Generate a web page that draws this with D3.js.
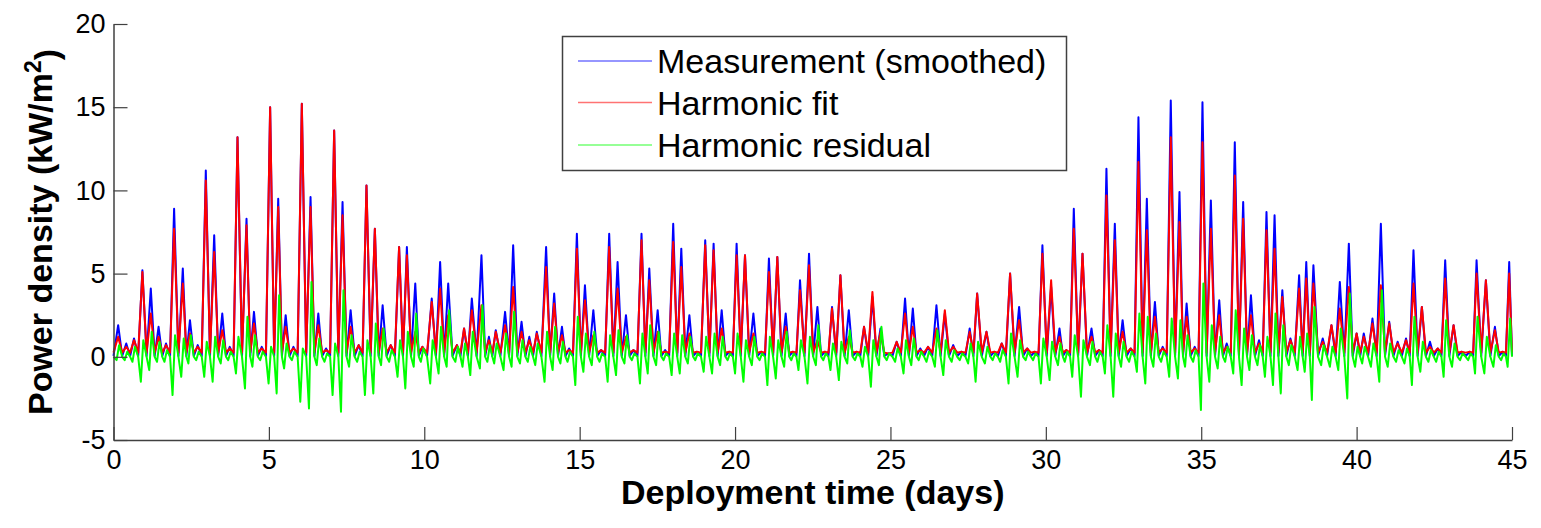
<!DOCTYPE html>
<html>
<head>
<meta charset="utf-8">
<script src="https://cdn.jsdelivr.net/npm/d3@7"></script>
<style>
  body { margin: 0; background: #fff; }
  text { font-family: "Liberation Sans", Arial, sans-serif; }
</style>
</head>
<body>
<svg id="chart" width="1541" height="528"></svg>
<script>
///////////////////// DATA /////////////////////
// time of each current peak (days), ~4 per day
const peakDay = [
  0.15, 0.41, 0.66, 0.93, 1.20, 1.45, 1.69, 1.95, 2.23, 2.46, 2.71, 2.97,
  3.24, 3.50, 3.74, 3.99, 4.28, 4.52, 4.77, 5.04, 5.30, 5.54, 5.79, 6.06,
  6.34, 6.59, 6.84, 7.10, 7.37, 7.63, 7.89, 8.14, 8.41, 8.66, 8.92, 9.19,
  9.44, 9.71, 9.94, 10.24, 10.51, 10.77, 11.05, 11.28, 11.53, 11.84, 12.08, 12.30,
  12.60, 12.86, 13.13, 13.38, 13.62, 13.92, 14.18, 14.43, 14.66, 14.91, 15.17, 15.44,
  15.69, 15.95, 16.22, 16.49, 16.73, 16.99, 17.24, 17.51, 17.75, 18.01, 18.27, 18.53,
  18.77, 19.04, 19.31, 19.57, 19.81, 20.05, 20.32, 20.59, 20.84, 21.09, 21.36, 21.63,
  21.86, 22.09, 22.38, 22.65, 22.89, 23.12, 23.39, 23.66, 23.91, 24.15, 24.42, 24.68,
  24.93, 25.20, 25.47, 25.72, 25.96, 26.21, 26.48, 26.75, 27.02, 27.28, 27.55, 27.79,
  28.09, 28.34, 28.58, 28.85, 29.14, 29.40, 29.64, 29.89, 30.17, 30.44, 30.66, 30.90,
  31.18, 31.47, 31.71, 31.95, 32.22, 32.47, 32.73, 32.98, 33.25, 33.51, 33.76, 34.02,
  34.30, 34.53, 34.79, 35.04, 35.31, 35.58, 35.82, 36.08, 36.35, 36.60, 36.86, 37.10,
  37.36, 37.61, 37.87, 38.15, 38.38, 38.61, 38.91, 39.19, 39.46, 39.75, 40.00, 40.23,
  40.51, 40.78, 41.05, 41.32, 41.59, 41.83, 42.10, 42.36, 42.61, 42.85, 43.12, 43.38,
  43.64, 43.86, 44.16, 44.45, 44.70, 44.91
];
// measured (smoothed) power density at each peak, kW/m2
const measPeak = [
  1.9, 0.8, 1.1, 5.2, 4.1, 1.8, 0.8, 8.9, 5.3, 2.2, 0.7, 11.2,
  7.3, 2.6, 0.6, 13.2, 8.3, 2.7, 0.6, 15.0, 9.5, 2.5, 0.6, 15.2,
  9.6, 2.6, 0.5, 13.6, 9.3, 2.8, 0.7, 10.3, 7.7, 3.1, 0.7, 6.6,
  6.6, 4.4, 0.6, 3.5, 5.7, 4.4, 0.7, 1.7, 3.5, 6.1, 1.2, 1.6,
  2.7, 6.7, 2.1, 1.2, 1.5, 6.6, 3.8, 1.8, 0.5, 7.4, 4.3, 2.8,
  0.4, 7.4, 5.7, 2.5, 0.4, 7.4, 5.3, 2.8, 0.4, 8.0, 6.5, 2.5,
  0.3, 7.0, 6.8, 2.8, 0.3, 6.8, 6.1, 2.6, 0.3, 5.9, 6.0, 2.6,
  0.3, 4.6, 6.2, 3.0, 0.3, 3.0, 4.9, 2.8, 0.3, 1.8, 3.6, 1.7,
  0.2, 0.9, 3.5, 2.9, 0.5, 0.6, 3.1, 2.6, 0.7, 0.3, 1.7, 3.8,
  1.5, 0.3, 0.8, 5.0, 3.0, 0.5, 0.3, 6.7, 4.2, 1.7, 0.4, 8.9,
  6.2, 1.7, 0.4, 11.3, 8.0, 2.2, 0.5, 14.4, 9.5, 3.3, 0.6, 15.4,
  9.9, 3.2, 0.6, 15.3, 9.4, 3.4, 0.8, 12.9, 9.3, 3.7, 1.0, 8.7,
  8.5, 4.0, 1.1, 4.9, 5.7, 5.5, 1.1, 1.9, 4.5, 6.8, 1.4, 1.4,
  2.3, 8.0, 2.1, 0.9, 1.1, 6.4, 3.0, 0.9, 0.5, 5.8, 1.9, 0.3,
  0.3, 5.8, 4.6, 1.8, 0.3, 5.7
];
// harmonic fit at each peak, kW/m2
const fitPeak = [
  1.2, 0.6, 1.0, 5.1, 2.6, 1.2, 0.7, 7.7, 4.4, 1.4, 0.6, 10.6,
  6.3, 1.6, 0.5, 13.2, 7.9, 2.0, 0.5, 15.0, 9.0, 1.8, 0.5, 15.2,
  9.0, 1.9, 0.4, 13.6, 8.5, 1.8, 0.7, 10.3, 7.7, 1.7, 0.7, 6.6,
  6.1, 1.5, 0.6, 3.3, 4.1, 2.5, 0.7, 1.7, 2.8, 3.1, 1.0, 1.5,
  1.9, 4.2, 1.5, 1.0, 1.4, 5.4, 3.2, 1.3, 0.4, 6.5, 3.4, 1.3,
  0.4, 6.6, 4.1, 1.2, 0.4, 7.0, 4.6, 1.5, 0.3, 6.9, 5.4, 1.4,
  0.3, 6.7, 6.4, 1.7, 0.3, 6.1, 6.1, 1.4, 0.3, 5.1, 6.0, 1.8,
  0.3, 4.0, 5.5, 1.0, 0.3, 2.9, 4.9, 1.2, 0.3, 1.8, 3.9, 1.5,
  0.2, 0.9, 2.6, 1.8, 0.4, 0.6, 1.7, 2.8, 0.6, 0.3, 1.5, 3.8,
  1.5, 0.3, 0.8, 5.0, 2.2, 0.5, 0.3, 6.2, 4.6, 1.2, 0.4, 7.7,
  6.2, 1.2, 0.4, 9.7, 7.0, 1.5, 0.5, 11.7, 7.6, 2.4, 0.5, 13.2,
  8.1, 2.4, 0.5, 12.9, 7.7, 2.5, 0.6, 10.9, 8.3, 2.5, 0.8, 7.6,
  6.5, 3.6, 1.0, 4.1, 4.7, 4.4, 0.9, 1.9, 2.9, 4.2, 1.4, 1.2,
  2.0, 4.3, 2.0, 0.8, 1.0, 4.4, 3.0, 0.6, 0.5, 4.7, 1.9, 0.3,
  0.3, 5.0, 4.6, 1.6, 0.3, 5.0
];
// residual excursions around each peak (high / low), kW/m2
const residHigh = [
  0.7, 0.3, 0.6, 1.0, 1.5, 0.9, 0.4, 1.3, 1.1, 1.3, 0.3, 0.9,
  1.2, 1.0, 0.3, 1.2, 2.4, 1.3, 0.3, 0.6, 3.7, 0.8, 0.3, 0.5,
  4.5, 1.1, 0.2, 0.8, 4.0, 1.3, 0.3, 1.0, 2.0, 1.7, 0.4, 1.0,
  1.5, 2.6, 0.5, 1.0, 1.8, 2.8, 0.6, 0.8, 1.5, 3.1, 0.7, 0.8,
  1.4, 2.7, 1.0, 0.6, 0.8, 1.5, 1.8, 0.9, 0.3, 2.4, 1.4, 1.5,
  0.2, 1.3, 1.6, 1.3, 0.2, 1.4, 1.9, 1.5, 0.2, 1.4, 1.3, 1.2,
  0.2, 1.2, 1.4, 1.2, 0.2, 1.4, 1.0, 1.2, 0.2, 1.2, 1.0, 1.5,
  0.2, 1.0, 1.2, 1.9, 0.2, 0.8, 0.9, 1.6, 0.2, 0.6, 1.0, 1.8,
  0.2, 0.5, 1.0, 1.1, 0.3, 0.3, 1.6, 1.0, 0.4, 0.2, 0.8, 0.9,
  0.6, 0.2, 0.4, 1.4, 1.0, 0.3, 0.2, 1.1, 0.9, 0.8, 0.3, 1.3,
  1.0, 0.9, 0.3, 1.9, 1.4, 0.9, 0.3, 2.6, 2.4, 1.4, 0.3, 2.3,
  2.2, 1.3, 0.4, 4.4, 1.9, 1.2, 0.6, 2.8, 1.7, 1.3, 0.7, 1.2,
  2.6, 1.9, 0.7, 1.2, 1.4, 3.0, 0.7, 0.6, 1.7, 3.8, 0.6, 0.6,
  0.8, 4.0, 0.8, 0.4, 0.5, 2.4, 0.9, 0.4, 0.3, 2.2, 0.8, 0.2,
  0.2, 2.4, 1.2, 0.7, 0.2, 2.3
];
const residLow = [
  -0.2, -0.2, -0.3, -1.5, -0.8, -0.3, -0.3, -2.3, -1.2, -0.4, -0.2, -1.2,
  -1.5, -0.4, -0.2, -1.0, -1.9, -0.6, -0.2, -1.6, -2.2, -0.7, -0.2, -2.7,
  -3.1, -0.5, -0.3, -2.3, -3.3, -0.6, -0.3, -2.3, -2.2, -0.5, -0.3, -1.2,
  -1.9, -0.6, -0.3, -1.6, -1.0, -0.6, -0.3, -0.6, -1.1, -0.7, -0.3, -0.4,
  -0.8, -0.6, -0.4, -0.3, -0.5, -1.5, -0.8, -0.4, -0.3, -1.7, -0.9, -0.5,
  -0.3, -1.5, -1.1, -0.4, -0.2, -1.6, -1.0, -0.5, -0.2, -1.1, -1.0, -0.4,
  -0.2, -0.9, -1.0, -0.5, -0.2, -1.0, -1.5, -0.5, -0.2, -1.7, -1.3, -0.6,
  -0.2, -0.8, -1.6, -0.5, -0.2, -0.8, -1.4, -0.4, -0.2, -0.6, -1.8, -0.5,
  -0.2, -0.3, -1.0, -0.5, -0.2, -0.3, -0.6, -1.1, -0.3, -0.2, -0.4, -1.5,
  -0.4, -0.2, -0.3, -1.6, -1.2, -0.2, -0.2, -1.6, -1.4, -0.5, -0.3, -1.2,
  -2.4, -0.5, -0.3, -1.0, -2.4, -0.6, -0.3, -0.9, -1.6, -0.6, -0.3, -1.2,
  -1.3, -0.6, -0.3, -3.2, -1.5, -0.7, -0.3, -1.0, -1.7, -0.8, -0.5, -1.2,
  -1.7, -2.2, -0.5, -0.8, -0.9, -2.6, -0.5, -0.6, -0.8, -2.5, -0.6, -0.4,
  -0.6, -1.5, -0.6, -0.3, -0.4, -1.7, -0.9, -0.3, -0.3, -1.2, -0.6, -0.2,
  -0.2, -1.0, -1.0, -0.6, -0.2, -0.6
];
const measSlack = 0.05;   // level at slack water between peaks
const fitSlack = 0.25;

const xTicks = [0, 5, 10, 15, 20, 25, 30, 35, 40, 45];
const yTicks = [-5, 0, 5, 10, 15, 20];
const seriesNames = ["Measurement (smoothed)", "Harmonic fit", "Harmonic residual"];
const seriesColors = ["#0000ff", "#ff0000", "#00ff00"];

///////////////////// LAYOUT /////////////////////
let margin = {top: 24, left: 113.5},
    width = 1512 - 113.5,
    height = 416;

const svg = d3.select("#chart");
svg.append("rect").attr("width", 1541).attr("height", 528).attr("fill", "#fff");

const g = svg.append("g")
    .attr("transform", "translate(" + margin.left + "," + margin.top + ")");

let x = d3.scaleLinear().domain([0, 45]).range([0, width]);
let y = d3.scaleLinear().domain([-5, 20]).range([height, 0]);

// slack times sit half way between successive peaks
const troughDay = [0].concat(peakDay.slice(1).map((d, i) => (d + peakDay[i]) / 2));

let build = (peaks, slack) => {
    let pts = [];
    peakDay.forEach((d, i) => {
        pts.push([troughDay[i], slack]);
        pts.push([d, peaks[i]]);
    });
    pts.push([45, slack]);
    return pts;
};

let residPts = [];
peakDay.forEach((d, i) => {
    residPts.push([troughDay[i], 0]);
    residPts.push([d - 0.05, residLow[i]]);
    residPts.push([d + 0.03, residHigh[i]]);
});
residPts.push([45, 0]);

let line = d3.line().x(d => x(d[0])).y(d => y(d[1]));

[build(measPeak, measSlack), build(fitPeak, fitSlack), residPts].forEach((pts, i) => {
    g.append("path")
        .datum(pts)
        .attr("fill", "none")
        .attr("stroke", seriesColors[i])
        .attr("stroke-width", 2)
        .attr("stroke-linejoin", "round")
        .attr("d", line);
});

///////////////////// AXES /////////////////////
let styleAxis = sel => {
    sel.select(".domain").attr("stroke", "#404040").attr("stroke-width", 1.5);
    sel.selectAll(".tick line").attr("stroke", "#404040").attr("stroke-width", 1.2);
    sel.selectAll(".tick text").attr("fill", "#000").style("font-size", "27px");
};

g.append("g")
    .attr("transform", "translate(0," + height + ")")
    .call(d3.axisBottom(x).tickValues(xTicks).tickFormat(d => String(d))
          .tickSizeInner(-13).tickSizeOuter(0).tickPadding(10))
    .call(styleAxis);

g.append("g")
    .call(d3.axisLeft(y).tickValues(yTicks).tickFormat(d => String(d))
          .tickSizeInner(-14).tickSizeOuter(0).tickPadding(8))
    .call(styleAxis);

svg.append("text")
    .attr("x", margin.left + width / 2)
    .attr("y", 504)
    .attr("text-anchor", "middle")
    .style("font-size", "34px")
    .style("font-weight", "bold")
    .text("Deployment time (days)");

let ylab = svg.append("text")
    .attr("transform", "translate(52," + (margin.top + height / 2) + ") rotate(-90)")
    .attr("text-anchor", "middle")
    .style("font-size", "34px")
    .style("font-weight", "bold");
ylab.append("tspan").text("Power density (kW/m");
ylab.append("tspan").attr("dy", "-0.5em").style("font-size", "23px").text("2");
ylab.append("tspan").attr("dy", "0.5em").text(")");

///////////////////// LEGEND /////////////////////
let legend = svg.append("g");
legend.append("rect")
    .attr("x", 562.5).attr("y", 36.5)
    .attr("width", 504).attr("height", 134)
    .attr("fill", "#fff")
    .attr("stroke", "#404040")
    .attr("stroke-width", 1.5);

const legendRows = [61, 102.5, 145];
seriesNames.forEach((name, i) => {
    legend.append("line")
        .attr("x1", 578).attr("x2", 652)
        .attr("y1", legendRows[i]).attr("y2", legendRows[i])
        .attr("stroke", seriesColors[i])
        .attr("stroke-opacity", 0.55)
        .attr("stroke-width", 1.5);
    legend.append("text")
        .attr("x", 657)
        .attr("y", legendRows[i])
        .attr("dy", "0.36em")
        .style("font-size", "34px")
        .text(name);
});
</script>
</body>
</html>
